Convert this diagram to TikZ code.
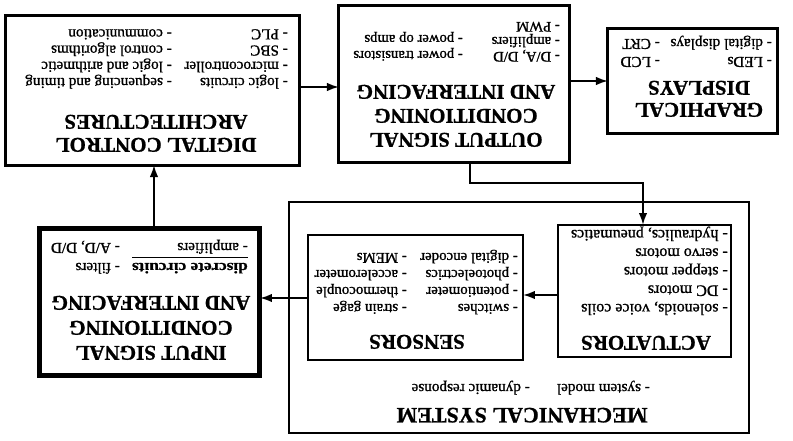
\documentclass[tikz,border=0pt]{standalone}
\usepackage{fontspec}
\usepackage{graphicx}
\setmainfont{Liberation Serif}
\newfontfamily\itemfam{Liberation Serif}[FakeBold=1.1]
\newfontfamily\ttlfam{Liberation Serif Bold}[FakeBold=0.9]
\usetikzlibrary{arrows.meta}
\newcommand\tlines[2]{{\fontsize{21}{#1}\selectfont\begin{tabular}[t]{@{}c@{}}#2\end{tabular}}}
\tikzset{
  box/.style={draw=black, fill=none, inner sep=0pt, outer sep=0pt},
  ttl/.style={font=\ttlfam\fontsize{21}{23}\selectfont, anchor=base, inner sep=0pt},
  itm/.style={font=\itemfam\fontsize{15.2}{16}\selectfont, anchor=base west, inner sep=0pt},
  conn/.style={line width=1.9pt, -{Latex[length=12pt,width=8.5pt]}},
}
\begin{document}
\begin{tikzpicture}[x=1pt, y=1pt, rotate=180, transform shape]
\useasboundingbox (0,0) rectangle (793,440);
% boxes
\node[box, line width=1.2pt, minimum width=460pt, minimum height=231pt] (mech) at (274,317.5) {};
\node[box, line width=3pt, minimum width=294pt, minimum height=150pt] (digital) at (640,90) {};
\node[box, line width=3pt, minimum width=231pt, minimum height=157pt] (output) at (338.5,83.5) {};
\node[box, line width=3pt, minimum width=170pt, minimum height=105pt] (graph) at (100,80.5) {};
\node[box, line width=2.5pt, minimum width=173pt, minimum height=132pt] (actu) at (148.5,291) {};
\node[box, line width=2.5pt, minimum width=215pt, minimum height=125pt] (sens) at (377.5,297.5) {};
\node[box, line width=5pt, minimum width=220pt, minimum height=147pt] (input) at (643,301.5) {};
% titles
\node[ttl] (dt) at (637,138) {\tlines{23}{DIGITAL CONTROL\\ARCHITECTURES}};
\node[ttl] (ot) at (337,133) {\tlines{24}{OUTPUT SIGNAL\\CONDITIONING\\AND INTERFACING}};
\node[ttl] (gt) at (94,103) {\tlines{22}{GRAPHICAL\\DISPLAYS}};
\node[ttl] (it) at (642,346) {\tlines{25}{INPUT SIGNAL\\CONDITIONING\\AND INTERFACING}};
\node[ttl] (st) at (376,335) {SENSORS};
\node[ttl] (at) at (147,336) {ACTUATORS};
\node[ttl, font=\ttlfam\fontsize{22}{23}\selectfont] (mt) at (271,408) {MECHANICAL SYSTEM};
% items: digital
\foreach \t [count=\i] in {logic circuits, microcontroller, SBC, PLC}
  \node[itm] (da\i) at (505,78-16.2*\i+16.2) {- \t};
\foreach \t [count=\i] in {sequencing and timing, logic and arithmetic, control algorithms, communication}
  \node[itm] (db\i) at (621,78-16.2*\i+16.2) {- \t};
% items: output
\foreach \t [count=\i] in {{D/A, D/D}, amplifiers, PWM}
  \node[itm, font=\itemfam\fontsize{14.7}{16}\selectfont] (oa\i) at (233,52-15*\i+15) {- \t};
\foreach \t [count=\i] in {power transistors, power op amps}
  \node[itm, font=\itemfam\fontsize{14.7}{16}\selectfont] (ob\i) at (330,51-16*\i+16) {- \t};
% items: graphical
\node[itm] (ga1) at (21,57) {- LEDs};
\node[itm] (ga2) at (21,39) {- digital displays};
\node[itm] (gb1) at (133,57) {- LCD};
\node[itm] (gb2) at (133,39) {- CRT};
% items: input
\node[itm, font=\ttlfam\fontsize{15}{16}\selectfont] (disc) at (545,263) {\scalebox{1.15}[1]{discrete circuits}};
\draw[line width=0.9pt] ([yshift=-6pt]disc.base west) -- ([yshift=-6pt]disc.base east);
\node[itm] (ia1) at (673,263) {- filters};
\node[itm] (ia2) at (545,243) {- amplifiers};
\node[itm] (ia3) at (673,243) {- A/D, D/D};
% items: sensors
\foreach \t [count=\i] in {switches, potentiometer, photoelectrics, digital encoder}
  \node[itm, font=\itemfam\fontsize{14.9}{16}\selectfont] (sa\i) at (275,304-17*\i+17) {- \t};
\foreach \t [count=\i] in {strain gage, thermocouple, accelerometer, MEMs}
  \node[itm, font=\itemfam\fontsize{14.9}{16}\selectfont] (sb\i) at (386,304-17*\i+17) {- \t};
% items: actuators
\foreach \t [count=\i] in {{solenoids, voice coils}, DC motors, stepper motors, servo motors, {hydraulics, pneumatics}}
  \node[itm, font=\itemfam\fontsize{16}{17}\selectfont] (aa\i) at (65,304-18.5*\i+18.5) {- \t};
% items: mechanical
\node[itm] (ma1) at (143,384) {- system model};
\node[itm] (ma2) at (263,384) {- dynamic response};
% connector helpers
\coordinate (r1) at (470,87);
\coordinate (r2) at (200,81);
\coordinate (k1) at (323,183);
\coordinate (k2) at (150,183);
\coordinate (r4) at (250,295);
\coordinate (r5) at (510,298);
\coordinate (k6) at (639,200);
% connectors
\draw[conn] (r1 -| digital.west) -- (r1 -| output.east);
\draw[conn] (r2 -| output.west) -- (r2 -| graph.east);
\draw[conn] (k1 |- output.north) -- (k1) -- (k2) -- (k2 |- actu.south);
\draw[conn] (r4 -| actu.east) -- (r4 -| sens.west);
\draw[conn] (r5 -| sens.east) -- (r5 -| input.west);
\draw[conn] (k6 |- input.south) -- (k6 |- digital.north);
\end{tikzpicture}
\end{document}
